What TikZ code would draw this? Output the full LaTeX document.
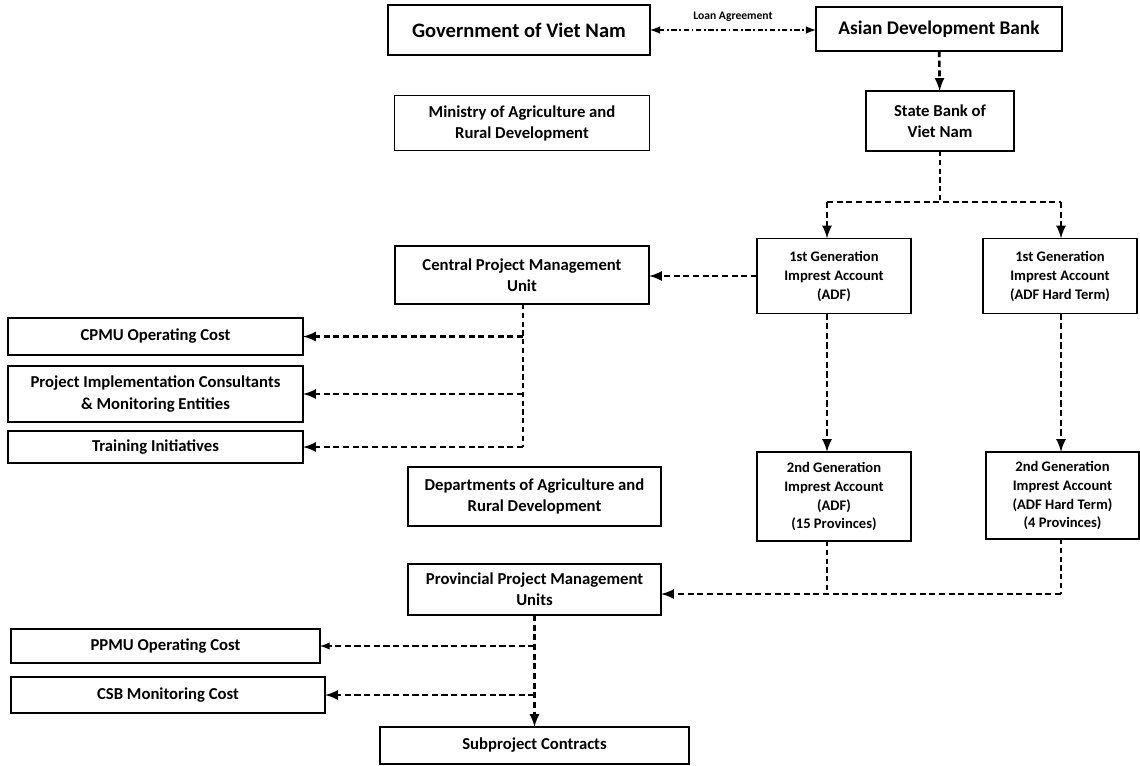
\documentclass[tikz,border=0pt]{standalone}
\usepackage{fontspec}
\setmainfont{Carlito}
\usetikzlibrary{calc}
\tikzstyle{box} = [draw, line width=1.1pt, inner sep=1pt, outer sep=0pt, align=center, font=\bfseries\fontsize{9.5}{12}\selectfont]
\tikzstyle{acct} = [box, font=\bfseries\fontsize{8.3}{10.8}\selectfont]
\tikzstyle{arrow} = [line width=1.5pt, ->, >=latex, dash pattern=on 3.5pt off 2pt]
\tikzstyle{thinline} = [line width=0.7pt, dash pattern=on 3pt off 2pt]
\tikzstyle{thinarrow} = [line width=0.9pt, ->, >=latex, dash pattern=on 3.5pt off 2pt]

\begin{document}
\begin{tikzpicture}[x=0.02cm, y=-0.02cm]
  \useasboundingbox (0,0) rectangle (1140,765);
  % top row
  \node[box, minimum width=5.24cm, minimum height=1cm, font=\bfseries\fontsize{11.7}{14}\selectfont] (gov) at (519,30) {Government of Viet Nam};
  \node[box, minimum width=4.92cm, minimum height=0.88cm, font=\bfseries\fontsize{11}{13}\selectfont] (adb) at (939,29) {Asian Development Bank};
  \node[box, minimum width=5.10cm, minimum height=1.10cm] (mard) at (522,123) {Ministry of Agriculture and\\Rural Development};
  \node[box, minimum width=2.96cm, minimum height=1.20cm] (sbv) at (940,121) {State Bank of\\Viet Nam};
  \draw[line width=1pt, <->, >=latex, dash pattern=on 3pt off 1.5pt on 1pt off 1.5pt] (gov.east) -- (gov.east -| adb.west)
    node[midway, above=1pt, font=\bfseries\fontsize{6.6}{8}\selectfont] (loan) {Loan Agreement};
  \draw[arrow] (adb) -- (sbv);
  % first generation accounts
  \node[acct, minimum width=3.08cm, minimum height=1.50cm] (adf1) at (834,276) {1st Generation\\Imprest Account\\(ADF)};
  \node[acct, minimum width=3.08cm, minimum height=1.50cm] (hard1) at (1060,276) {1st Generation\\Imprest Account\\(ADF Hard Term)};
  \coordinate (jl) at (827,202);
  \coordinate (jr) at (1061,202);
  \draw[thinline] (sbv.south) -- (sbv.south |- jl);
  \draw[line width=1pt, dash pattern=on 3.5pt off 2pt] (jl) -- (jr);
  \draw[arrow] (jl) -- (jl |- adf1.north);
  \draw[arrow] (jr) -- (jr |- hard1.north);
  % central unit
  \node[box, minimum width=5.08cm, minimum height=1.16cm] (cpmu) at (522,275) {Central Project Management\\Unit};
  \draw[arrow] (adf1.west) -- (adf1.west -| cpmu.east);
  \node[box, minimum width=5.90cm, minimum height=0.74cm] (cpmuop) at (155.5,336.5) {CPMU Operating Cost};
  \node[box, minimum width=5.90cm, minimum height=1.12cm] (pic) at (155.5,394) {Project Implementation Consultants\\\& Monitoring Entities};
  \node[box, minimum width=5.90cm, minimum height=0.64cm] (train) at (155.5,447) {Training Initiatives};
  \coordinate (ct) at (523,447);
  \draw[thinline] (cpmu.south -| ct) -- (ct);
  \draw[arrow] (cpmuop.east -| ct) -- (cpmuop.east);
  \draw[arrow] (pic.east -| ct) -- (pic.east);
  \draw[arrow] (train.east -| ct) -- (train.east);
  % second generation accounts
  \node[box, minimum width=5.06cm, minimum height=1.18cm] (dard) at (534.5,496.5) {Departments of Agriculture and\\Rural Development};
  \node[acct, minimum width=3.08cm, minimum height=1.78cm] (adf2) at (834,496.5) {2nd Generation\\Imprest Account\\(ADF)\\(15 Provinces)};
  \node[acct, minimum width=3.06cm, minimum height=1.74cm] (hard2) at (1062.5,495.5) {2nd Generation\\Imprest Account\\(ADF Hard Term)\\(4 Provinces)};
  \draw[arrow] (adf1.south -| jl) -- (adf2.north -| jl);
  \draw[arrow] (hard1.south -| jr) -- (hard2.north -| jr);
  % provincial units
  \node[box, minimum width=5.06cm, minimum height=1.02cm] (ppmu) at (534.5,589.5) {Provincial Project Management\\Units};
  \coordinate (pj) at (1061,594);
  \draw[thinline] (adf2.south -| jl) -- (jl |- pj);
  \draw[thinline] (hard2.south -| pj) -- (pj);
  \draw[arrow] (pj) -- (pj -| ppmu.east);
  \node[box, minimum width=6.18cm, minimum height=0.68cm] (ppmuop) at (165.5,646) {PPMU Operating Cost};
  \node[box, minimum width=6.28cm, minimum height=0.72cm] (csb) at (168,695) {CSB Monitoring Cost};
  \node[box, minimum width=6.18cm, minimum height=0.74cm] (sub) at (534.5,745.5) {Subproject Contracts};
  \draw[arrow] (ppmu.south) -- (sub.north);
  \draw[thinarrow] (ppmu.south |- ppmuop.east) -- (ppmuop.east);
  \draw[arrow] (ppmu.south |- csb.east) -- (csb.east);
\end{tikzpicture}
\end{document}
